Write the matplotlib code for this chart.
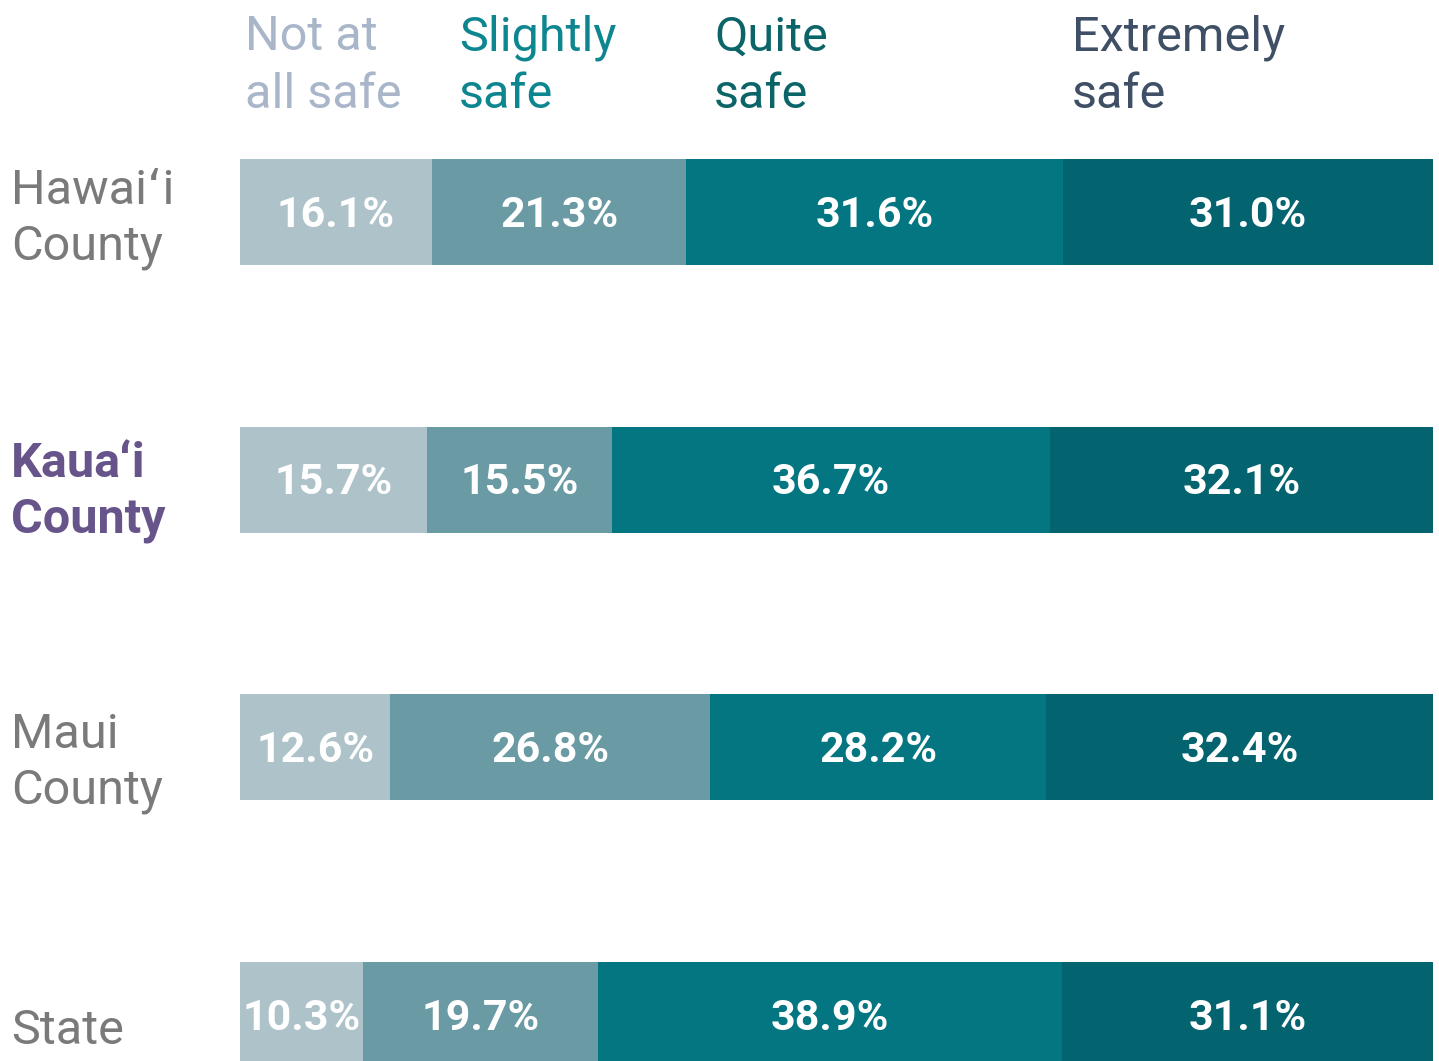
import matplotlib.pyplot as plt

plt.rcParams['font.family'] = ['Roboto', 'DejaVu Sans']

# Data
regions = ['Hawaiʻi\nCounty', 'Kauaʻi\nCounty', 'Maui\nCounty', 'State']
levels = ['Not at\nall safe', 'Slightly\nsafe', 'Quite\nsafe', 'Extremely\nsafe']
not_safe = [16.1, 15.7, 12.6, 10.3]
slightly = [21.3, 15.5, 26.8, 19.7]
quite = [31.6, 36.7, 28.2, 38.9]
extremely = [31.0, 32.1, 32.4, 31.1]

bar_colors = ['#adc2c9', '#6a9ba5', '#047682', '#03636f']
level_colors = ['#a9b6ca', '#0e8690', '#0a6468', '#3e4f66']
region_colors = ['#7a7a7a', '#66548a', '#7a7a7a', '#7a7a7a']
region_weights = ['normal', 'bold', 'normal', 'normal']

W, H = 1439, 1061
fig = plt.figure(figsize=(W / 100, H / 100), dpi=100)
ax = fig.add_axes([240 / W, 0, 1193 / W, 1])

series = [not_safe, slightly, quite, extremely]
rows = list(range(len(regions)))
left = [0.0] * len(regions)
for vals, col in zip(series, bar_colors):
    ax.barh(rows, vals, left=left, height=0.396, color=col, edgecolor='none')
    for r, (l, v) in enumerate(zip(left, vals)):
        ax.text(l + v / 2, r + 0.012, f'{v:.1f}%', ha='center', va='center',
                color='white', fontsize=31, fontweight='bold')
    left = [l + v for l, v in zip(left, vals)]

ax.set_xlim(0, 100)
ax.set_ylim(3.172, -0.792)
ax.axis('off')

# column headers
header_x = [245, 459, 714, 1072]
for txt, x, col in zip(levels, header_x, level_colors):
    fig.text(x / W, 1 - 66 / H, txt, ha='left', va='center', color=col,
             fontsize=35, linespacing=1.31)

# row labels
px = 1193 / 100
label_offset = [0.025, 0.045, 0.06, 0.06]
for r, (txt, col, wt) in enumerate(zip(regions, region_colors, region_weights)):
    ax.text((11 - 240) / px, r + label_offset[r], txt, ha='left', va='center',
            color=col, fontsize=35, fontweight=wt, linespacing=1.27,
            clip_on=False)

fig.savefig('out.png', dpi=100)
